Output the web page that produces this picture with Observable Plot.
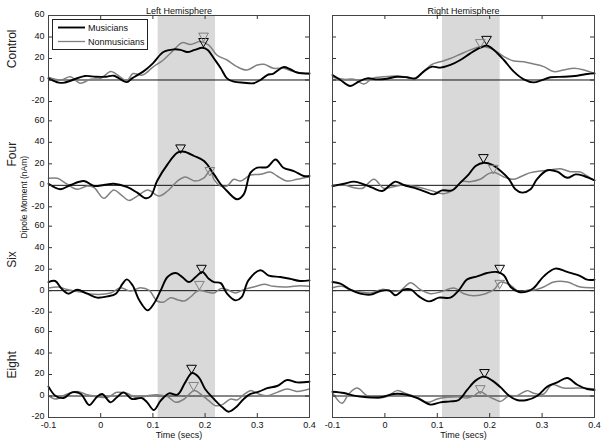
<!DOCTYPE html>
<html><head><meta charset="utf-8">
<script src="https://cdn.jsdelivr.net/npm/d3@7"></script>
<script src="https://cdn.jsdelivr.net/npm/@observablehq/plot@0.6"></script>
<style>
body{margin:0;background:#fff;font-family:"Liberation Sans",Arial,sans-serif;}
#wrap{position:relative;width:603px;height:444px;overflow:hidden;}
.col{position:absolute;top:0;}
#legend{position:absolute;left:52px;top:19px;width:94px;height:29px;border:1px solid #222;background:#fff;font-size:9px;}
</style></head><body><div id="wrap"></div>
<script>
// ---- data ----
const conditions = ["Control", "Four", "Six", "Eight"];
const hemispheres = ["Left Hemisphere", "Right Hemisphere"];
const groups = ["Musicians", "Nonmusicians"];
const xTicks = [-0.1, 0, 0.1, 0.2, 0.3, 0.4];
const yTickLabels = [-20, 0, 20, 40, 60];
const shadeWindow = [0.11, 0.22];

// Left hemisphere: [time (s), dipole moment (nAm)]
const leftControlMus = [[-0.1,1.5],[-0.08,-2.5],[-0.07,-2.5],[-0.03,3.7],[-0.01,3],[0.01,3],[0.025,4],[0.05,-2],[0.06,1.5],[0.082,8],[0.1,15.5],[0.12,26],[0.14,28.5],[0.153,28],[0.166,26],[0.18,28],[0.195,30],[0.205,28],[0.217,20],[0.23,11],[0.242,1.5],[0.255,-1.5],[0.274,-2.5],[0.293,-3],[0.306,0],[0.319,4.6],[0.331,6],[0.35,12],[0.363,10],[0.376,7],[0.4,6]];
const leftControlNon = [[-0.1,2.5],[-0.077,0],[-0.058,3],[-0.039,-3],[-0.02,0.6],[0,1.5],[0.019,8],[0.03,5.5],[0.05,-0.6],[0.062,6],[0.08,4.6],[0.1,12],[0.12,18.6],[0.14,28],[0.156,34.7],[0.172,33],[0.19,35.7],[0.207,32.5],[0.223,23],[0.242,18.6],[0.261,12.4],[0.28,9.3],[0.3,14],[0.313,14.6],[0.331,10.9],[0.35,10.9],[0.37,7.8],[0.4,5.6]];
const leftFourMus = [[-0.1,1.5],[-0.077,-3.7],[-0.058,0.3],[-0.032,4],[-0.013,-0.6],[0.006,0.3],[0.025,1.5],[0.05,-1.5],[0.07,-6.8],[0.086,-12],[0.096,-10],[0.108,4],[0.128,19.5],[0.147,30.4],[0.16,31.3],[0.179,27.3],[0.198,22.6],[0.217,10.2],[0.23,1],[0.242,-5.3],[0.261,-13],[0.274,-8.4],[0.287,11.8],[0.3,16.4],[0.319,17],[0.335,24],[0.35,16.4],[0.37,13.3],[0.389,8.7],[0.4,8.7]];
const leftFourNon = [[-0.1,6.5],[-0.083,6.5],[-0.064,1],[-0.045,-3.7],[-0.026,-0.6],[-0.013,-2],[0.006,-12],[0.025,-4.3],[0.038,-8.4],[0.054,-14],[0.07,-10],[0.09,-4.3],[0.112,-10],[0.128,-5.3],[0.147,4],[0.162,7.8],[0.18,4],[0.198,7],[0.21,14],[0.217,5.6],[0.23,-0.6],[0.242,-0.6],[0.255,5.6],[0.268,4],[0.287,9.6],[0.306,10.2],[0.325,12.4],[0.338,8.7],[0.357,4],[0.376,5.6],[0.4,8]];
const leftSixMus = [[-0.1,8],[-0.087,9],[-0.075,1.9],[-0.062,-2.8],[-0.045,0.9],[-0.026,-2.8],[-0.007,-6.5],[0.013,-5.3],[0.029,-2.8],[0.042,6.5],[0.05,10.5],[0.061,5],[0.074,-9],[0.09,-18.3],[0.102,-12],[0.115,0.3],[0.128,12.7],[0.144,16.4],[0.156,12.7],[0.169,8],[0.182,12.7],[0.195,17.4],[0.207,11],[0.217,8],[0.23,7],[0.242,-2.8],[0.258,-9],[0.27,-6],[0.283,9.6],[0.306,19],[0.322,14],[0.344,12.7],[0.363,11],[0.382,9],[0.4,9.6]];
const leftSixNon = [[-0.1,2.5],[-0.08,3.4],[-0.064,1],[-0.038,-1.2],[-0.013,-3.4],[0.019,-2.2],[0.038,2.8],[0.057,-0.3],[0.076,2.8],[0.093,0.3],[0.108,-9.6],[0.121,-10.5],[0.134,-6.5],[0.147,-8.4],[0.16,-9.6],[0.172,-5.9],[0.188,0.3],[0.204,-1.2],[0.217,-2.2],[0.23,1.9],[0.242,1],[0.258,-2.2],[0.274,1],[0.293,3.4],[0.313,5.9],[0.331,4],[0.357,3.4],[0.382,4.6],[0.4,4]];
const leftEightMus = [[-0.1,8.7],[-0.087,0.3],[-0.071,-1.9],[-0.055,3.4],[-0.038,1.9],[-0.022,-8.4],[-0.007,-0.6],[0.003,1.9],[0.019,-5.9],[0.031,-1.2],[0.044,3.4],[0.06,-2.8],[0.079,-1.9],[0.089,-5.9],[0.102,-13],[0.115,-4.3],[0.131,2.5],[0.147,1.2],[0.162,12.7],[0.175,21.4],[0.188,17.4],[0.2,6.5],[0.217,-2.8],[0.233,-10.5],[0.245,-14.6],[0.258,-11],[0.274,-2.8],[0.287,1.9],[0.303,4],[0.319,7.4],[0.338,9.3],[0.357,14.9],[0.376,12.7],[0.4,13.3]];
const leftEightNon = [[-0.1,0.3],[-0.087,-2.8],[-0.064,1.9],[-0.045,4.3],[-0.026,1.2],[-0.007,-0.6],[0.013,-1.2],[0.031,3.4],[0.05,2.5],[0.07,-1.9],[0.09,0.3],[0.108,1.2],[0.128,-0.6],[0.144,-5.9],[0.16,-2.8],[0.179,5],[0.195,0.3],[0.207,-4.3],[0.22,-9],[0.233,-8],[0.249,-2.8],[0.261,-3.7],[0.274,1.2],[0.287,5],[0.303,1.9],[0.319,0.3],[0.338,3.4],[0.357,6.5],[0.376,4.3],[0.4,6.5]];

// Right hemisphere
const rightControlMus = [[-0.1,4.6],[-0.085,0],[-0.066,-5.6],[-0.05,-1.5],[-0.034,1.5],[-0.015,0.6],[0.004,1.2],[0.023,3],[0.042,2.5],[0.058,1.5],[0.074,7.8],[0.09,12.4],[0.106,11.5],[0.125,14],[0.144,18.6],[0.163,24.8],[0.182,30],[0.195,32],[0.208,28],[0.227,18.6],[0.246,7.8],[0.265,0.6],[0.284,-2.2],[0.297,-0.6],[0.316,2.5],[0.341,3],[0.367,4],[0.386,5.6],[0.4,6.2]];
const rightControlNon = [[-0.1,2.5],[-0.078,0.6],[-0.059,0.6],[-0.04,-3.7],[-0.024,1.5],[-0.002,3],[0.023,3.7],[0.042,2.5],[0.055,0],[0.071,6.8],[0.09,14.6],[0.106,17],[0.125,20],[0.144,24],[0.163,28],[0.182,31],[0.195,30.4],[0.208,28],[0.227,21.7],[0.246,17.7],[0.265,17],[0.284,14.9],[0.303,12.4],[0.322,7.8],[0.341,9.3],[0.361,10.9],[0.38,9.3],[0.4,6.2]];
const rightFourMus = [[-0.1,-0.6],[-0.078,1.5],[-0.059,3.4],[-0.04,0.9],[-0.024,-2.2],[-0.005,-5.3],[0.008,-0.6],[0.02,3.4],[0.036,0.3],[0.055,-2.2],[0.074,-5.3],[0.093,-8.4],[0.109,-4.7],[0.128,-4.7],[0.144,2.5],[0.16,10.2],[0.173,18],[0.189,21],[0.205,19],[0.221,13.3],[0.237,5.6],[0.249,-3.7],[0.262,-6.8],[0.278,-3.7],[0.29,5.6],[0.31,14],[0.329,12.7],[0.348,7],[0.364,10.2],[0.38,8.7],[0.4,4.6]];
const rightFourNon = [[-0.1,-0.6],[-0.078,0.3],[-0.059,-2.2],[-0.043,-2.8],[-0.021,5.6],[-0.002,-2.8],[0.014,-1.5],[0.036,0.3],[0.062,-1.5],[0.087,-4.7],[0.112,-7.8],[0.132,-3.7],[0.147,3.4],[0.163,3.4],[0.182,5.6],[0.198,10.9],[0.211,11.8],[0.227,7.8],[0.246,5.6],[0.262,8.7],[0.278,11.8],[0.297,13.3],[0.316,14.3],[0.335,15.5],[0.354,12.7],[0.373,12.4],[0.386,8.7],[0.4,4.6]];
const rightSixMus = [[-0.1,8],[-0.085,6.5],[-0.066,0.9],[-0.047,-2.8],[-0.027,-3.7],[-0.008,-0.3],[0.008,0.3],[0.02,-4.3],[0.036,0.9],[0.049,1.2],[0.065,-5.3],[0.084,-10],[0.103,-6.5],[0.125,-6.5],[0.141,0.3],[0.157,10.5],[0.176,13.3],[0.195,16.4],[0.214,17.4],[0.227,14.3],[0.24,3.4],[0.256,-1.2],[0.272,-0.6],[0.284,2.5],[0.303,13.3],[0.325,20.5],[0.348,17.4],[0.373,13.6],[0.386,10.2],[0.4,10.2]];
const rightSixNon = [[-0.1,2.8],[-0.082,4],[-0.066,0.9],[-0.047,-1.2],[-0.027,-2.2],[-0.005,1.2],[0.011,-0.6],[0.03,0.3],[0.049,7.4],[0.068,0.9],[0.087,-2.8],[0.106,-1.2],[0.132,2.5],[0.151,-2.8],[0.17,-4.7],[0.192,-2.8],[0.208,0.9],[0.221,8],[0.24,5],[0.256,-1.2],[0.272,0.3],[0.287,0.9],[0.303,3.4],[0.322,8],[0.348,8],[0.373,3.4],[0.4,2.8]];
const rightEightMus = [[-0.1,4],[-0.078,2.8],[-0.059,0.3],[-0.034,-1.2],[-0.008,-1.2],[0.017,1.9],[0.042,1.2],[0.062,-1.9],[0.087,-8],[0.106,-5.9],[0.125,-5],[0.141,-3.7],[0.157,5.6],[0.173,14.3],[0.189,18],[0.205,14.3],[0.221,8],[0.237,0.3],[0.252,-3.7],[0.271,-3.7],[0.291,0.3],[0.31,8.7],[0.329,12.7],[0.348,16.7],[0.367,10.5],[0.386,6.5],[0.4,5.6]];
const rightEightNon = [[-0.1,3.4],[-0.082,-6.8],[-0.069,1.9],[-0.053,7.4],[-0.034,0.3],[-0.015,-1.9],[0.004,-0.6],[0.023,5],[0.042,1.9],[0.062,-1.2],[0.081,-5.9],[0.1,-2.8],[0.119,-1.2],[0.138,-0.6],[0.157,-1.9],[0.17,0.3],[0.182,4],[0.195,0.3],[0.208,-2.8],[0.221,-5],[0.237,0.3],[0.252,0.3],[0.271,5],[0.284,2.5],[0.303,1.9],[0.319,10.5],[0.341,7.4],[0.367,7.4],[0.4,6.5]];

// Peak markers [time, value] per condition: Musicians / Nonmusicians
const leftPeaksMus = [[0.197,36],[0.153,35],[0.193,21],[0.174,26]];
const leftPeaksNon = [[0.197,41],[0.209,14],[0.189,6],[0.178,10]];
const rightPeaksMus = [[0.194,38],[0.188,26],[0.219,21],[0.19,22]];
const rightPeaksNon = [[0.182,35],[0.207,16],[0.219,7],[0.182,7]];

// ---- build ----
const STEP = 98;
const offsetOf = i => (conditions.length - 1 - i) * STEP;
const series = {
  "Left Hemisphere": {Musicians: [leftControlMus, leftFourMus, leftSixMus, leftEightMus],
                      Nonmusicians: [leftControlNon, leftFourNon, leftSixNon, leftEightNon],
                      peaks: {Musicians: leftPeaksMus, Nonmusicians: leftPeaksNon}},
  "Right Hemisphere": {Musicians: [rightControlMus, rightFourMus, rightSixMus, rightEightMus],
                       Nonmusicians: [rightControlNon, rightFourNon, rightSixNon, rightEightNon],
                       peaks: {Musicians: rightPeaksMus, Nonmusicians: rightPeaksNon}}
};
const colors = {Musicians: "#000000", Nonmusicians: "#808080"};
const widths = {Musicians: 1.9, Nonmusicians: 1.5};

const yTickValues = conditions.flatMap((c, i) => yTickLabels.map(l => l + offsetOf(i)));
const yLabel = d => {
  for (let i = 0; i < conditions.length; i++) {
    const r = d - offsetOf(i);
    if (r >= -20 && r <= 60) return String(Math.round(r));
  }
  return "";
};
const font = '"Liberation Sans", Arial, sans-serif';

function column(h, isLeft) {
  const s = series[h];
  const rows = [];
  const peaks = [];
  for (const g of groups) {
    s[g].forEach((arr, i) => arr.forEach(([t, v]) => rows.push({t, v, y: v + offsetOf(i), group: g, key: g + i})));
    s.peaks[g].forEach(([t, v], i) => peaks.push({t, y: v + offsetOf(i), group: g}));
  }
  const ml = isLeft ? 48 : 12, mr = isLeft ? 11 : 9;
  const W = isLeft ? 320 : 283;
  const fw = W - ml - mr, fh = 444 - 15 - 27;
  const marks = [
    Plot.rect([shadeWindow], {x1: d => d[0], x2: d => d[1], fill: "#d9d9d9"}),
    Plot.ruleY(conditions, {y: (d, i) => offsetOf(i), stroke: "#111", strokeWidth: 1}),
    ...groups.slice().reverse().map(g => Plot.line(rows.filter(r => r.group === g), {
      x: "t", y: "y", z: "key", stroke: colors[g], strokeWidth: widths[g], curve: "catmull-rom"})),
    ...groups.map(g => Plot.dot(peaks.filter(p => p.group === g), {
      x: "t", y: "y", symbol: "triangle", rotate: 180, r: 3.6, stroke: colors[g], strokeWidth: 1, fill: "none"})),
    // inward ticks
    Plot.ruleY(yTickValues, {y: d => d, insetRight: fw - 4, stroke: "#333"}),
    Plot.ruleY(yTickValues, {y: d => d, insetLeft: fw - 4, stroke: "#333"}),
    Plot.ruleX(xTicks, {x: d => d, insetBottom: fh - 4, stroke: "#333"}),
    Plot.ruleX(xTicks, {x: d => d, insetTop: fh - 4, stroke: "#333"}),
    Plot.frame({stroke: "#444", strokeWidth: 1}),
    Plot.axisX(xTicks, {tickSize: 0, tickPadding: 4, tickFormat: d => String(d), fontSize: 9, label: null}),
    Plot.text([h], {frameAnchor: "top", dy: -8, fontSize: 9, fill: "#111"}),
    Plot.text(["Time (secs)"], {frameAnchor: "bottom", dy: 20, fontSize: 9, fill: "#111"})
  ];
  if (isLeft) {
    marks.push(
      Plot.axisY(yTickValues, {tickSize: 0, tickPadding: 4, tickFormat: yLabel, fontSize: 9, label: null, dy: -1}),
      Plot.text(conditions, {x: -0.1, y: (d, i) => offsetOf(i) + 29, dx: -36, rotate: -90, fontSize: 12, fill: "#222"}),
      Plot.text(["Dipole Moment (nAm)"], {frameAnchor: "left", dx: -24, dy: 22, rotate: -90, fontSize: 8.5, fill: "#222"})
    );
  }
  return Plot.plot({
    width: W, height: 444, marginTop: 15, marginBottom: 27, marginLeft: ml, marginRight: mr,
    style: {fontFamily: font, fontSize: "9px", color: "#111", background: "transparent", overflow: "visible"},
    x: {domain: [-0.1, 0.4], axis: null, label: null},
    y: {domain: [-20, offsetOf(0) + 60], axis: null, label: null},
    marks
  });
}

const wrap = document.getElementById("wrap");
hemispheres.forEach((h, k) => {
  const div = document.createElement("div");
  div.className = "col";
  div.style.left = k === 0 ? "0px" : "320px";
  div.appendChild(column(h, k === 0));
  wrap.appendChild(div);
});

// legend
const leg = document.createElement("div");
leg.id = "legend";
const svg = d3.create("svg").attr("width", 94).attr("height", 29).style("display", "block");
groups.forEach((g, i) => {
  const y = 7.5 + i * 14;
  svg.append("line").attr("x1", 5).attr("x2", 32).attr("y1", y).attr("y2", y)
    .attr("stroke", colors[g]).attr("stroke-width", i === 0 ? 1.9 : 1.3);
  svg.append("text").attr("x", 35).attr("y", y).attr("dy", "0.35em")
    .attr("font-size", 9).attr("font-family", font).attr("fill", "#111").text(g);
});
leg.appendChild(svg.node());
wrap.appendChild(leg);
</script></body></html>
